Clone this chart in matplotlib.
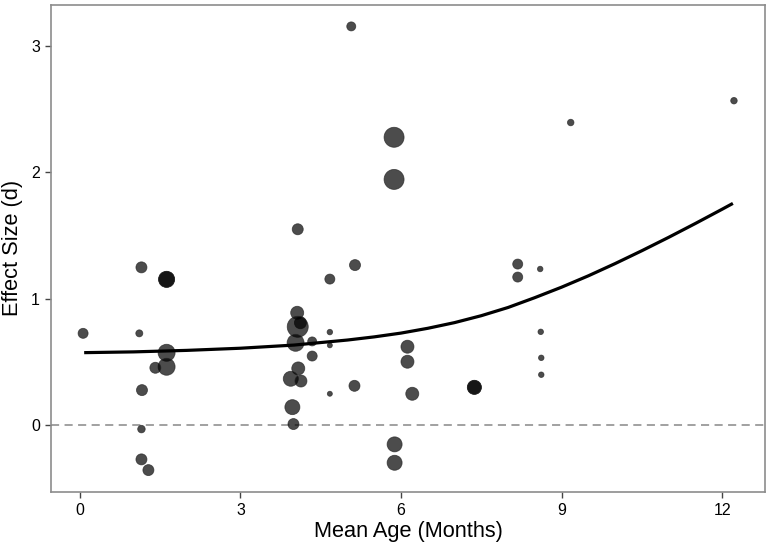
"""Effect size vs mean age scatter with fitted curve."""

import matplotlib.pyplot as plt

plt.rcParams['font.family'] = ['Liberation Sans', 'DejaVu Sans']

# study-level points: mean age (months), effect size d, marker diameter (weight)
age = [0.06, 1.15, 1.11, 1.62, 1.62, 1.62, 1.62, 1.41, 1.16, 1.15, 1.15, 1.28,
       4.07, 5.14, 4.67, 4.06, 4.12, 4.07, 4.03, 4.34, 4.67, 4.67, 4.34, 4.08,
       3.94, 4.13, 3.97, 3.99, 4.67, 5.13, 6.12, 6.12, 6.21, 7.37, 7.37, 5.88,
       5.88, 5.07, 5.87, 5.87,
       8.18, 8.18, 8.60, 8.61, 8.62, 8.62, 9.17, 12.22]
d = [0.725, 1.248, 0.725, 1.153, 1.153, 0.571, 0.460, 0.452, 0.275, -0.034, -0.274, -0.359,
     1.550, 1.266, 1.155, 0.888, 0.809, 0.777, 0.650, 0.661, 0.735, 0.630, 0.545, 0.447,
     0.365, 0.347, 0.140, 0.006, 0.246, 0.309, 0.619, 0.500, 0.246, 0.297, 0.297, -0.155,
     -0.301, 3.158, 2.279, 1.945,
     1.274, 1.171, 1.235, 0.737, 0.531, 0.397, 2.396, 2.569]
weight = [10, 11, 7, 16, 16, 17, 17, 11, 11, 7.5, 11, 11,
          11, 11, 10, 13, 12, 21, 17, 9, 5.5, 5, 10, 13,
          15, 12, 15, 11, 5, 11, 13, 13, 13, 14, 14, 15,
          15, 9, 20, 20,
          10, 10, 5.5, 5.5, 5.5, 5.5, 6.5, 6.5]

# fitted meta-regression curve
fit_age = [0.08, 1.0, 2.0, 3.0, 4.0, 5.0, 5.5, 6.0, 6.5, 7.0, 7.5, 8.0, 8.5,
           9.0, 9.5, 10.0, 10.5, 11.0, 11.5, 12.0, 12.2]
fit_d = [0.572, 0.578, 0.590, 0.607, 0.632, 0.672, 0.697, 0.727, 0.765, 0.810, 0.865,
         0.930, 1.008, 1.091, 1.181, 1.278, 1.380, 1.486, 1.596, 1.709, 1.755]

fig = plt.figure(figsize=(7.69, 5.46), dpi=100)
ax = fig.add_axes([0.0663, 0.0995, 0.9285, 0.8919])

# diameter in px -> marker area in pt^2
sizes = [(w * 0.72) ** 2 for w in weight]
ax.scatter(age, d, s=sizes, color='black', alpha=0.7, edgecolors='#222222',
           linewidths=0.6, zorder=2)

ax.plot(fit_age, fit_d, color='black', linewidth=2.3, solid_capstyle='butt',
        solid_joinstyle='round', zorder=3)
ax.axhline(0, color='#9a9a9a', linestyle=(0, (4.5, 3)), linewidth=1.3, zorder=1)

ax.set_xlim(-0.54, 12.80)
ax.set_ylim(-0.53, 3.33)
ax.set_xticks([0, 3, 6, 9, 12])
ax.set_yticks([0, 1, 2, 3])

for sp in ax.spines.values():
    sp.set_color('#8c8c8c')
    sp.set_linewidth(1.2)
ax.tick_params(length=4, width=1.0, color='#444444', labelsize=11.5,
               labelcolor='black', pad=4)

ax.set_xlabel('Mean Age (Months)', fontsize=15.7, labelpad=2)
ax.set_ylabel('Effect Size (d)', fontsize=15.7, labelpad=6)

fig.savefig('out.png', dpi=100, facecolor='white')
